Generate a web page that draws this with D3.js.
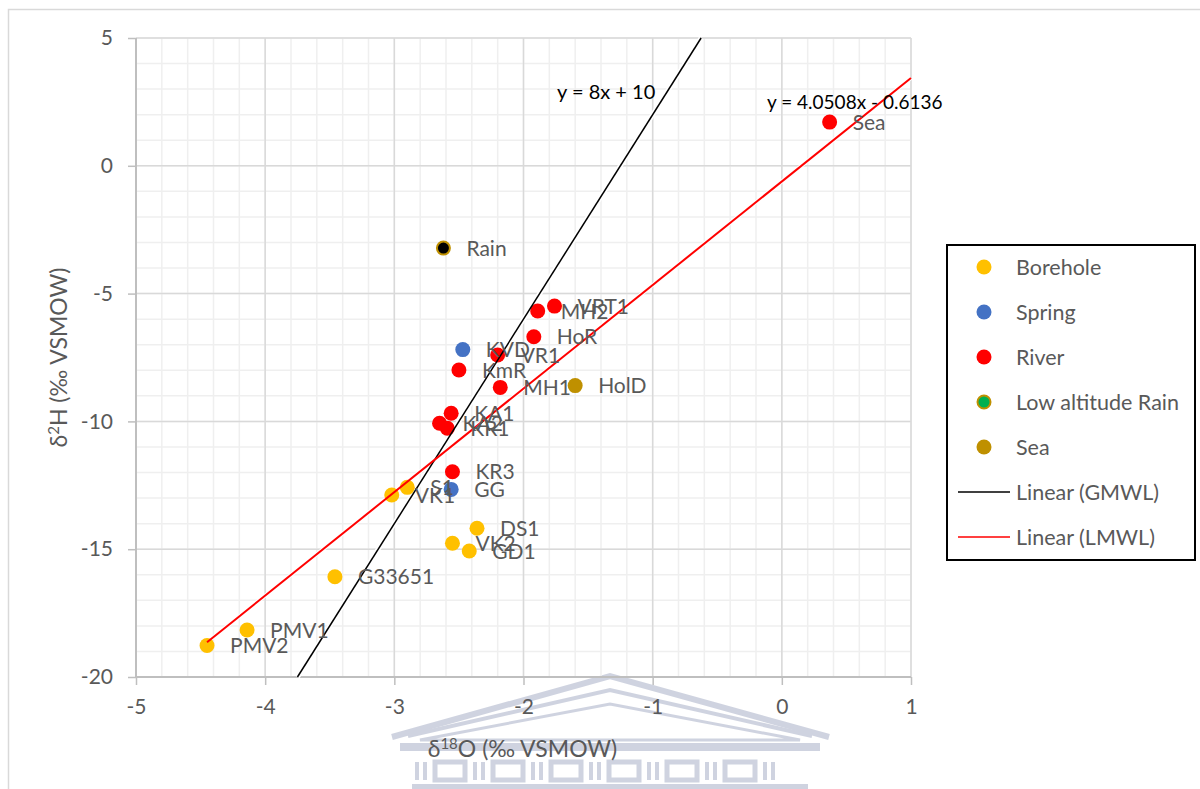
<!DOCTYPE html>
<html>
<head>
<meta charset="utf-8">
<script src="https://cdn.jsdelivr.net/npm/d3@7"></script>
<style>
  html, body { margin: 0; padding: 0; background: #fff; }
  svg { display: block; font-family: Lato, "Open Sans", sans-serif; }
</style>
</head>
<body>
<svg id="chart" width="1200" height="789"></svg>
<script>
// ---------- data ----------
const xTicks = [-5, -4, -3, -2, -1, 0, 1];
const yTicks = [5, 0, -5, -10, -15, -20];

const boreholeNames = ["S1", "VK1", "DS1", "VK2", "GD1", "G33651", "PMV1", "PMV2"];
const boreholeX = [-2.90, -3.02, -2.36, -2.55, -2.42, -3.46, -4.14, -4.45];
const boreholeY = [-12.58, -12.88, -14.18, -14.77, -15.07, -16.08, -18.16, -18.77];

const springNames = ["KVD", "GG"];
const springX = [-2.47, -2.56];
const springY = [-7.19, -12.66];

const riverNames = ["VRT1", "MH2", "HoR", "VR1", "KmR", "MH1", "KA1", "KA2", "KR1", "KR3", "Sea"];
const riverX = [-1.76, -1.89, -1.92, -2.20, -2.50, -2.18, -2.56, -2.65, -2.59, -2.55, 0.37];
const riverY = [-5.49, -5.68, -6.69, -7.40, -7.99, -8.67, -9.68, -10.07, -10.27, -11.97, 1.71];

const seaNames = ["HolD"];
const seaX = [-1.60];
const seaY = [-8.60];

const rainNames = ["Rain"];
const rainX = [-2.62];
const rainY = [-3.22];

// trendlines
const gmwl = { slope: 8, intercept: 10, label: "y = 8x + 10" };
const lmwl = { slope: 4.0508, intercept: -0.6136, label: "y = 4.0508x - 0.6136", x0: -4.45, x1: 1 };

const legendLabels = ["Borehole", "Spring", "River", "Low altitude Rain", "Sea", "Linear (GMWL)", "Linear (LMWL)"];

// ---------- layout ----------
const svg = d3.select("#chart");
const plot = { left: 136, right: 911, top: 38, bottom: 677 };
const x = d3.scaleLinear().domain([-5, 1]).range([plot.left, plot.right]);
const y = d3.scaleLinear().domain([-20, 5]).range([plot.bottom, plot.top]);

const textCol = "#595959";
const fontSize = 21;

// outer chart border
svg.append("rect").attr("x", 8.5).attr("y", 9.5).attr("width", 1200).attr("height", 800)
  .attr("fill", "#fff").attr("stroke", "#d9d9d9").attr("stroke-width", 1.5);

// ---------- watermark (faint building) ----------
const wmCol = "#c4c9d9";
const wm = svg.append("g").attr("fill", "none").attr("stroke", wmCol).attr("opacity", 0.8);
wm.append("path").attr("d", "M392,737 L610,676 L829,737").attr("stroke-width", 6);
wm.append("path").attr("d", "M408,736 L610,690 L812,736").attr("stroke-width", 4);
wm.append("path").attr("d", "M420,740 L610,704 L800,740 Z").attr("stroke-width", 3);
wm.append("rect").attr("x", 400).attr("y", 743).attr("width", 420).attr("height", 8)
  .attr("fill", wmCol).attr("stroke", "none");
const frieze = svg.append("g").attr("fill", wmCol).attr("opacity", 0.8);
const friezeStart = 415;
for (let i = 0; i < 7; i++) {
  const bx = friezeStart + i * 58;
  frieze.append("rect").attr("x", bx).attr("y", 762).attr("width", 4).attr("height", 18);
  frieze.append("rect").attr("x", bx + 8).attr("y", 762).attr("width", 4).attr("height", 18);
  if (i < 6) {
    frieze.append("rect").attr("x", bx + 20).attr("y", 762).attr("width", 30).attr("height", 18)
      .attr("fill", "none").attr("stroke", wmCol).attr("stroke-width", 5);
  }
}
frieze.append("rect").attr("x", 412).attr("y", 784).attr("width", 396).attr("height", 5);

// ---------- grid ----------
const grid = svg.append("g");
const minorX = d3.range(-5, 1.0001, 0.2).map(v => +v.toFixed(2));
const minorY = d3.range(-20, 5.0001, 1);
grid.selectAll("line.mx").data(minorX).join("line")
  .attr("x1", d => x(d)).attr("x2", d => x(d)).attr("y1", plot.top).attr("y2", plot.bottom)
  .attr("stroke", "#efefef").attr("stroke-width", 1.5);
grid.selectAll("line.my").data(minorY).join("line")
  .attr("y1", d => y(d)).attr("y2", d => y(d)).attr("x1", plot.left).attr("x2", plot.right)
  .attr("stroke", "#efefef").attr("stroke-width", 1.5);
grid.selectAll("line.Mx").data(xTicks).join("line")
  .attr("x1", d => x(d)).attr("x2", d => x(d)).attr("y1", plot.top).attr("y2", plot.bottom)
  .attr("stroke", "#d9d9d9").attr("stroke-width", 1.5);
grid.selectAll("line.My").data(yTicks).join("line")
  .attr("y1", d => y(d)).attr("y2", d => y(d)).attr("x1", plot.left).attr("x2", plot.right)
  .attr("stroke", "#d9d9d9").attr("stroke-width", 1.5);

// ---------- axes ----------
const fmt = d => String(d);
const xAxis = svg.append("g").attr("transform", `translate(0,${plot.bottom})`)
  .call(d3.axisBottom(x).tickValues(xTicks).tickSize(8).tickPadding(14).tickFormat(fmt));
const yAxis = svg.append("g").attr("transform", `translate(${plot.left},0)`)
  .call(d3.axisLeft(y).tickValues(yTicks).tickSize(8).tickPadding(15).tickFormat(fmt));
[xAxis, yAxis].forEach(a => {
  a.select(".domain").attr("stroke", "#bfbfbf").attr("stroke-width", 2);
  a.selectAll(".tick line").attr("stroke", "#bfbfbf").attr("stroke-width", 1.5);
  a.selectAll(".tick text").attr("fill", textCol).attr("font-size", fontSize)
    .attr("font-family", "Lato, 'Open Sans', sans-serif");
});
xAxis.select(".domain").attr("d", `M${plot.left},0H${plot.right}`);
yAxis.select(".domain").attr("d", `M0,${plot.top}V${plot.bottom}`);

// axis titles
const xt = svg.append("text").attr("x", (plot.left + plot.right) / 2 - 1).attr("y", 757)
  .attr("text-anchor", "middle").attr("fill", textCol).attr("font-size", 23);
xt.append("tspan").text("δ");
xt.append("tspan").text("18").attr("font-size", 15).attr("dy", -8);
xt.append("tspan").text("O (‰ VSMOW)").attr("dy", 8);

const yt = svg.append("text")
  .attr("transform", `translate(67,${(plot.top + plot.bottom) / 2}) rotate(-90)`)
  .attr("text-anchor", "middle").attr("fill", textCol).attr("font-size", 23);
yt.append("tspan").text("δ");
yt.append("tspan").text("2").attr("font-size", 15).attr("dy", -8);
yt.append("tspan").text("H (‰ VSMOW)").attr("dy", 8);

// ---------- trendlines ----------
const lineGen = d3.line().x(d => x(d[0])).y(d => y(d[1]));
const gx0 = (-20 - gmwl.intercept) / gmwl.slope, gx1 = (5 - gmwl.intercept) / gmwl.slope;
const gPts = [[gx0, gmwl.slope * gx0 + gmwl.intercept], [gx1, gmwl.slope * gx1 + gmwl.intercept]];
const lPts = [[lmwl.x0, lmwl.slope * lmwl.x0 + lmwl.intercept], [lmwl.x1, lmwl.slope * lmwl.x1 + lmwl.intercept]];

svg.append("path").attr("d", lineGen(gPts)).attr("stroke", "#fff").attr("stroke-width", 5).attr("fill", "none");
svg.append("path").attr("d", lineGen(lPts)).attr("stroke", "#fff").attr("stroke-width", 4).attr("fill", "none");

// ---------- points ----------
function drawSeries(names, xs, ys, fill, stroke) {
  const data = names.map((n, i) => ({ n, x: xs[i], y: ys[i] }));
  const g = svg.append("g");
  g.selectAll("circle").data(data).join("circle")
    .attr("cx", d => x(d.x)).attr("cy", d => y(d.y)).attr("r", stroke ? 6.5 : 7.5)
    .attr("fill", fill).attr("stroke", stroke || "none").attr("stroke-width", stroke ? 2 : 0);
  return data;
}
const labelData = [];
labelData.push(...drawSeries(boreholeNames, boreholeX, boreholeY, "#ffc000"));
labelData.push(...drawSeries(springNames, springX, springY, "#4472c4"));
labelData.push(...drawSeries(riverNames, riverX, riverY, "#ff0000"));
labelData.push(...drawSeries(seaNames, seaX, seaY, "#bf9000"));
labelData.push(...drawSeries(rainNames, rainX, rainY, "#000000", "#bf9000"));

// trendlines on top of markers
svg.append("path").attr("d", lineGen(gPts)).attr("stroke", "#000").attr("stroke-width", 1.5).attr("fill", "none");
svg.append("path").attr("d", lineGen(lPts)).attr("stroke", "#ff0000").attr("stroke-width", 2).attr("fill", "none");

// point labels
svg.append("g").selectAll("text").data(labelData).join("text")
  .attr("x", d => x(d.x) + 23).attr("y", d => y(d.y)).attr("dy", "0.36em")
  .attr("fill", textCol).attr("font-size", fontSize).text(d => d.n);

// equation labels
svg.append("text").attr("x", 557).attr("y", 92).attr("dy", "0.36em")
  .attr("fill", "#000").attr("font-size", 20).text(gmwl.label);
svg.append("text").attr("x", 767).attr("y", 102).attr("dy", "0.36em")
  .attr("fill", "#000").attr("font-size", 19).text(lmwl.label);

// ---------- legend ----------
const lg = svg.append("g");
lg.append("rect").attr("x", 947).attr("y", 245).attr("width", 248).attr("height", 315)
  .attr("fill", "#fff").attr("stroke", "#000").attr("stroke-width", 2);
const legendStyles = [
  { type: "dot", fill: "#ffc000" },
  { type: "dot", fill: "#4472c4" },
  { type: "dot", fill: "#ff0000" },
  { type: "dot", fill: "#00b050", stroke: "#bf9000" },
  { type: "dot", fill: "#bf9000" },
  { type: "line", stroke: "#000" },
  { type: "line", stroke: "#ff0000" }
];
legendLabels.forEach((lab, i) => {
  const cy = 267 + i * 45;
  const s = legendStyles[i];
  if (s.type === "dot") {
    lg.append("circle").attr("cx", 984).attr("cy", cy).attr("r", s.stroke ? 6.5 : 7.5)
      .attr("fill", s.fill).attr("stroke", s.stroke || "none").attr("stroke-width", s.stroke ? 2 : 0);
  } else {
    lg.append("line").attr("x1", 958).attr("x2", 1010).attr("y1", cy).attr("y2", cy)
      .attr("stroke", s.stroke).attr("stroke-width", 1.5);
  }
  lg.append("text").attr("x", 1016).attr("y", cy).attr("dy", "0.36em")
    .attr("fill", textCol).attr("font-size", 21.5).text(lab);
});
</script>
</body>
</html>
